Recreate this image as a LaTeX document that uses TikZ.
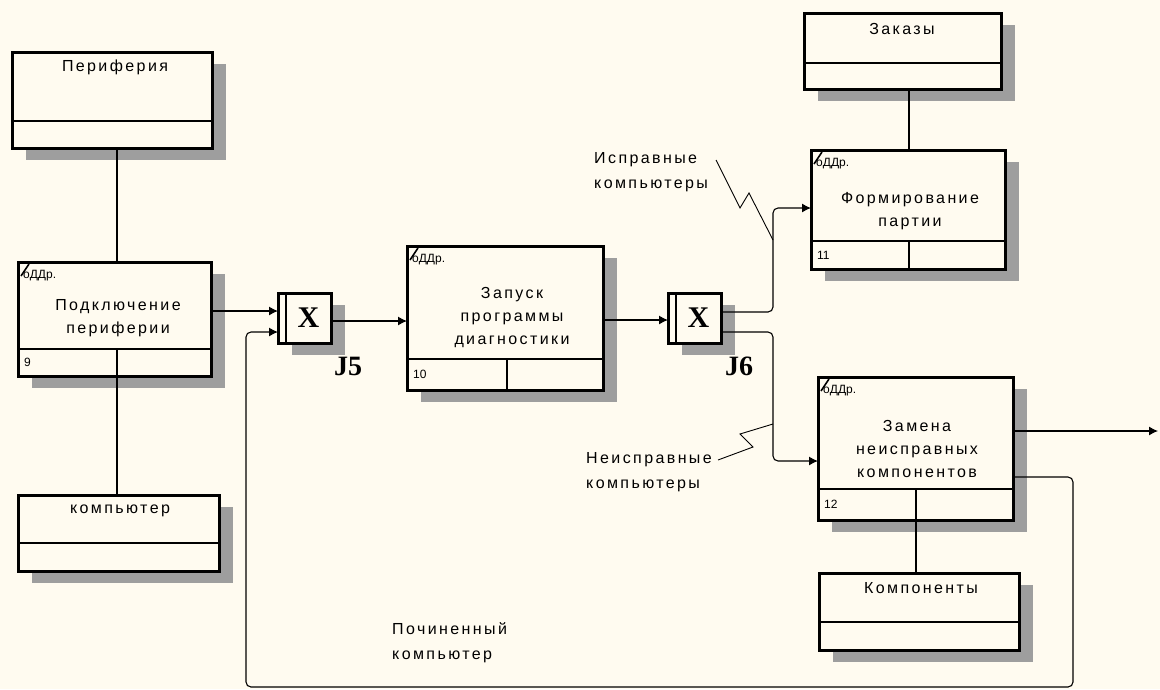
\documentclass[tikz,border=0pt]{standalone}
\usepackage{fontspec}
\setmainfont{Liberation Sans}
\newfontfamily\lbl[LetterSpace=15]{Liberation Sans}
\newfontfamily\jfont{Liberation Serif}
\usetikzlibrary{arrows.meta,calc}
\definecolor{bg}{RGB}{255,251,240}
\tikzset{
  box/.style={draw, line width=3pt, fill=bg, inner sep=0pt, outer sep=0pt},
  shd/.style={fill=black!38},
  div/.style={line width=2.8pt},
  conn/.style={line width=1.1pt},
  arr/.style={conn, -{Latex[length=9pt,width=9pt]}},
  txt/.style={font=\lbl\fontsize{16}{23}\selectfont, align=center, inner sep=0pt},
  ltxt/.style={font=\lbl\fontsize{16}{25}\selectfont, align=left, inner sep=0pt},
  tag/.style={font=\fontsize{12}{12}\selectfont, inner sep=0pt, anchor=west},
  jx/.style={font=\jfont\bfseries\fontsize{30}{30}\selectfont, inner sep=0pt},
  jl/.style={font=\jfont\bfseries\fontsize{28}{28}\selectfont, inner sep=0pt},
  squig/.style={line width=0.9pt}
}
\newcommand\shadowed[5]{%
  \fill[shd] (#2+14,#3+12) rectangle (#4+14,#5+12);
  \node[box, minimum width={#4-#2}, minimum height={#5-#3}] (#1) at ({(#2+#4)/2},{(#3+#5)/2}) {};
}
\newcommand\entbox[6]{%
  \shadowed{#1}{#2}{#3}{#4}{#5}
  \draw[div] (#2,#6) -- (#4,#6);
}
\newcommand\actbox[8]{%
  \shadowed{#1}{#2}{#3}{#4}{#5}
  \draw[div] (#2,#6) -- (#4,#6);
  \draw[div] (#7,#6) -- (#7,#5);
  \draw[line width=1.6pt] (#2+3,#3+14) -- (#2+11,#3+2);
  \node[tag] (#1tag) at (#2+5,#3+14) {оДДр.};
  \node[tag] (#1num) at (#2+6,{(#6+#5)/2}) {#8};
}
\begin{document}
\begin{tikzpicture}[x=1pt,y=-1pt]
\fill[bg] (0,0) rectangle (1160,689);
\useasboundingbox (0,0) rectangle (1160,689);

% boxes
\entbox{per}{12}{52}{212}{148}{121}
\node[txt] (perl) at (115,67) {Периферия};
\actbox{pod}{18}{262}{211}{376}{349}{117}{9}
\node[txt] (podl) at (118,318) {Подключение\\периферии};
\entbox{comp}{18}{495}{219}{571}{543}
\node[txt] (compl) at (120,511) {компьютер};

\shadowed{j5}{278}{293}{331}{343}
\draw[div] (286,293) -- (286,343);
\node[jx] (j5x) at (308.5,318) {X};
\node[jl] (j5l) at (348,366) {J5};

\actbox{zap}{407}{246}{603}{390}{359}{507}{10}
\node[txt] (zapl) at (512,318) {Запуск\\программы\\диагностики};

\shadowed{j6}{668}{293}{721}{343}
\draw[div] (676,293) -- (676,343);
\node[jx] (j6x) at (698.5,318) {X};
\node[jl] (j6l) at (739,366) {J6};

\entbox{zak}{804}{13}{1001}{89}{63}
\node[txt] (zakl) at (902,29) {Заказы};
\actbox{form}{811}{150}{1005}{269}{241}{909}{11}
\node[txt] (forml) at (910,211) {Формирование\\партии};
\actbox{zam}{818}{377}{1013}{520}{489}{916}{12}
\node[txt] (zaml) at (917,449) {Замена\\неисправных\\компонентов};
\entbox{komp}{819}{573}{1019}{650}{622}
\node[txt] (kompl) at (921,588) {Компоненты};

% labels
\node[ltxt, anchor=north west] (ispr) at (594,152) {Исправные\\компьютеры};
\node[ltxt, anchor=north west] (neispr) at (586,452) {Неисправные\\компьютеры};
\node[ltxt, anchor=north west] (pochin) at (392,622) {Починенный\\компьютер};

% mechanism / control lines
\coordinate (podv) at (117,349);
\coordinate (formv) at (909,241);
\coordinate (zamv) at (916,489);
\draw[conn] (podv |- per.south) -- (podv |- pod.north);
\draw[conn] (podv |- pod.south) -- (podv |- comp.north);
\draw[conn] (formv |- zak.south) -- (formv |- form.north);
\draw[conn] (zamv |- zam.south) -- (zamv |- komp.north);

% flows
\draw[arr] ($(pod.east)+(0,-8)$) -- ($(j5.west)+(0,-7)$);
\draw[arr, rounded corners=5pt] ($(zam.east)+(0,28.5)$) -- (1073,477) -- (1073,687) -- (246,687) -- (246,332) -- ($(j5.west)+(0,14)$);
\draw[arr] ($(j5.east)+(0,3)$) -- ($(zap.west)+(0,3)$);
\draw[arr] ($(zap.east)+(0,2)$) -- ($(j6.west)+(0,2)$);
\draw[arr, rounded corners=5pt] ($(j6.east)+(0,-6)$) -- (773,312) -- (773,208) -- ($(form.west)+(0,-1.5)$);
\draw[arr, rounded corners=5pt] ($(j6.east)+(0,14)$) -- (773,332) -- (773,461) -- ($(zam.west)+(0,12.5)$);
\coordinate (out) at (1158,431);
\draw[arr] ($(zam.east)+(0,-17.5)$) -- (out);

% squiggles
\coordinate (sq1) at (716,160);
\draw[squig] (sq1) -- (740,208) -- (749,193) -- (773,240);
\coordinate (sq2) at (718,460);
\draw[squig] (sq2) -- (753,447) -- (740,434) -- (773,424);
\end{tikzpicture}
\end{document}
